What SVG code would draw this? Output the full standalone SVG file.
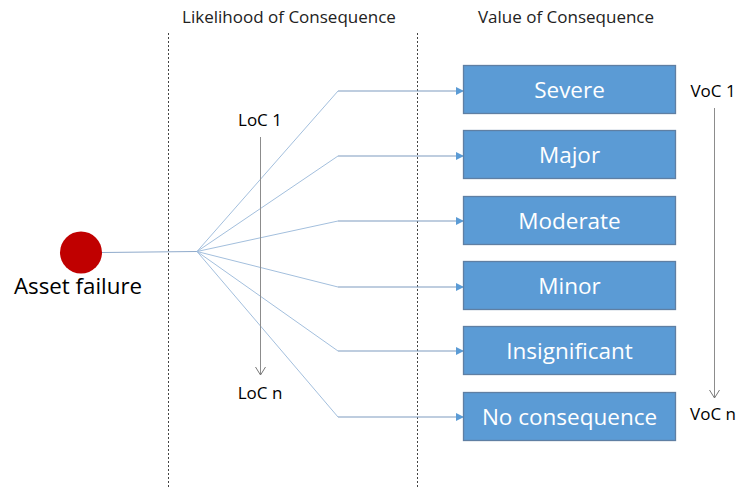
<svg xmlns="http://www.w3.org/2000/svg" width="753" height="488" viewBox="0 0 753 488">
<style>
.lbl{font-family:"Open Sans","Liberation Sans",sans-serif;fill:#000}
.hdr{font-size:17px;fill:#222}
.small{font-size:17px}
.box rect{fill:#5B9BD5;stroke:#5F7FA3;stroke-width:1.3}
.box text{font-family:"Open Sans","Liberation Sans",sans-serif;font-size:22.5px;fill:#fff;text-anchor:middle}
.diag{stroke:#A3BFDD;stroke-width:1;fill:none}
.hor{stroke:#7F9CBF;stroke-width:1.2;fill:none}
.dash{stroke:#444;stroke-width:1;stroke-dasharray:2 2}
.scale{stroke:#8C8C8C;stroke-width:1;fill:none}
</style>
<defs>
<marker id="tri" markerWidth="8" markerHeight="8" refX="7" refY="4" orient="auto" markerUnits="userSpaceOnUse">
<path d="M0,0 L8,4 L0,8 Z" fill="#5B9BD5"/>
</marker>
<marker id="open" markerWidth="12" markerHeight="10" refX="6" refY="9" orient="0" markerUnits="userSpaceOnUse">
<path d="M1,1 L6,9 L11,1" fill="none" stroke="#777" stroke-width="1"/>
</marker>
</defs>
<g id="dividers">
<line class="dash" x1="168.5" y1="33" x2="168.5" y2="488"/>
<line class="dash" x1="417.5" y1="33" x2="417.5" y2="488"/>
</g>
<g id="headers">
<text class="lbl hdr" x="289" y="23" text-anchor="middle">Likelihood of Consequence</text>
<text class="lbl hdr" x="566" y="23" text-anchor="middle">Value of Consequence</text>
</g>
<g id="connectors">
<line x1="102" y1="252.5" x2="197" y2="251.5" stroke="#8FAACB" stroke-width="1.2"/>
<polyline class="diag" points="197,251.5 338,91"/>
<polyline class="diag" points="197,251.5 338,156"/>
<polyline class="diag" points="197,251.5 338,221"/>
<polyline class="diag" points="197,251.5 338,287"/>
<polyline class="diag" points="197,251.5 338,351"/>
<polyline class="diag" points="197,251.5 338,417"/>
<line class="hor" x1="338" y1="91" x2="463" y2="91" marker-end="url(#tri)"/>
<line class="hor" x1="338" y1="156" x2="463" y2="156" marker-end="url(#tri)"/>
<line class="hor" x1="338" y1="221" x2="463" y2="221" marker-end="url(#tri)"/>
<line class="hor" x1="338" y1="287" x2="463" y2="287" marker-end="url(#tri)"/>
<line class="hor" x1="338" y1="351" x2="463" y2="351" marker-end="url(#tri)"/>
<line class="hor" x1="338" y1="417" x2="463" y2="417" marker-end="url(#tri)"/>
<line class="scale" x1="260.5" y1="137" x2="260.5" y2="375" marker-end="url(#open)"/>
<line class="scale" x1="714.5" y1="108" x2="714.5" y2="398" marker-end="url(#open)"/>
</g>
<g id="asset">
<circle cx="81" cy="252.5" r="21" fill="#C00000"/>
<text class="lbl" x="78" y="294" font-size="22.3" text-anchor="middle">Asset failure</text>
</g>
<g id="loc-labels">
<text class="lbl small" x="260" y="126" text-anchor="middle">LoC 1</text>
<text class="lbl small" x="260" y="399" text-anchor="middle">LoC n</text>
</g>
<g id="voc-labels">
<text class="lbl small" x="713" y="97" text-anchor="middle">VoC 1</text>
<text class="lbl small" x="713" y="420" text-anchor="middle">VoC n</text>
</g>
<g id="severe" class="box"><rect x="463.5" y="65.5" width="212" height="48"/><text x="569.5" y="98">Severe</text></g>
<g id="major" class="box"><rect x="463.5" y="130.5" width="212" height="48"/><text x="569.5" y="163">Major</text></g>
<g id="moderate" class="box"><rect x="463.5" y="196.5" width="212" height="48"/><text x="569.5" y="229">Moderate</text></g>
<g id="minor" class="box"><rect x="463.5" y="261.5" width="212" height="48"/><text x="569.5" y="294">Minor</text></g>
<g id="insignificant" class="box"><rect x="463.5" y="326.5" width="212" height="48"/><text x="569.5" y="359">Insignificant</text></g>
<g id="no-consequence" class="box"><rect x="463.5" y="392.5" width="212" height="48"/><text x="569.5" y="425">No consequence</text></g>
</svg>
